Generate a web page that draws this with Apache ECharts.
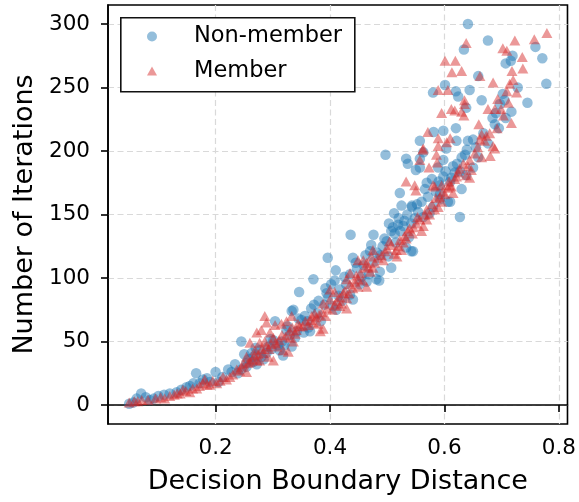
<!DOCTYPE html>
<html>
<head>
<meta charset="utf-8">
<script src="https://cdn.jsdelivr.net/npm/echarts@6/dist/echarts.min.js"></script>
<style>html,body{margin:0;padding:0;background:#fff}#chart{width:579px;height:502px}</style>
</head>
<body>
<div id="chart"></div>
<script>
// Tick labels
var xTicks = [0.2, 0.4, 0.6, 0.8];
var yTicks = [0, 50, 100, 150, 200, 250, 300];
var seriesNames = ['Non-member', 'Member'];

// Non-member: [decision boundary distance, number of iterations]
var nonMember = [
[0.641,300],[0.676,287],[0.634,280],[0.719,275],[0.707,269],[0.716,271],[0.759,282],[0.771,273],[0.659,259],
[0.778,253],[0.745,238],[0.601,252],[0.580,246],[0.620,247],[0.624,243],[0.644,248],[0.638,234],[0.702,245],[0.697,237],[0.717,231],[0.707,226],[0.684,226],[0.695,218],[0.688,221],[0.581,215],[0.598,216],[0.620,218],[0.621,208],[0.603,202],[0.641,208],[0.650,209],[0.639,201],[0.676,206],[0.598,193],[0.589,187],[0.630,195],[0.659,195],[0.650,187],[0.618,183],[0.627,184],[0.612,179],[0.610,176],[0.569,175],[0.592,173],[0.630,170],[0.592,166],[0.557,187],[0.557,208],
[0.497,197],[0.533,194],[0.536,190],[0.557,194],[0.563,199],[0.550,185],[0.522,167],[0.525,157],[0.543,157],[0.512,151],[0.503,143],[0.436,134],[0.476,134],[0.507,137],[0.513,135],[0.499,129],[0.482,120],[0.440,116],[0.507,108],[0.487,105],[0.486,98],[0.435,103],[0.542,121],[0.533,124],[0.542,143],[0.554,152],[0.563,148],[0.638,181],[0.610,160],[0.627,148],
[0.396,116],[0.410,106],[0.371,99],[0.346,89],[0.333,74],[0.304,66],[0.245,50],[0.481,99],[0.372,79],[0.367,76],[0.394,88],[0.397,85],[0.417,91],[0.435,87],[0.440,83],[0.405,78],[0.411,75],[0.356,70],[0.360,66],[0.365,58],[0.324,59],[0.330,55],[0.339,53],[0.301,51],[0.309,47],[0.312,43],[0.277,43],[0.289,41],[0.266,38],[0.333,46],[0.318,39],[0.254,33],[0.272,32],[0.455,101],[0.464,97],
[0.166,25],[0.200,26],[0.070,9],[0.049,1],[0.085,4],[0.100,7],[0.120,9],[0.132,10],[0.149,14],[0.161,17],[0.178,20],[0.190,18],[0.205,18],[0.222,28],[0.234,32],[0.239,25],[0.254,30],[0.266,34],[0.280,38],
[0.472,126],[0.336,75],[0.543,156],[0.519,142],[0.545,121],[0.528,141],[0.580,156],[0.574,151],[0.592,162],[0.606,160],[0.590,176],
[0.056,2],[0.062,5],[0.078,6],[0.092,5],[0.110,8],[0.140,12],[0.155,15],[0.172,17],[0.185,21],[0.212,22],[0.228,26],[0.245,28],[0.258,36],[0.263,41],[0.284,36],[0.292,46],[0.298,44],[0.316,50],[0.320,47],[0.342,58],[0.350,67],[0.354,57],[0.362,61],[0.378,72],[0.384,66],[0.390,79],[0.402,95],[0.415,86],[0.421,82],[0.428,95],[0.447,108],[0.452,95],[0.459,110],[0.468,103],[0.477,113],[0.492,125],[0.502,117],[0.515,128],[0.523,137],[0.530,145],[0.538,132],[0.548,147],[0.560,160],[0.571,164],[0.585,168],[0.598,180],[0.615,188],[0.636,197],[0.655,203],[0.668,214],[0.690,230],[0.705,240],[0.728,250],[0.665,240],
[0.445,112],[0.462,118],[0.470,121],[0.488,118],[0.495,131],[0.510,140],[0.520,147],[0.535,150],[0.552,158],[0.566,170],[0.578,178],[0.602,184],[0.622,190],[0.380,82],[0.392,92],[0.408,98],[0.425,101],[0.345,68],[0.326,62],[0.296,52],[0.270,45],[0.250,40]
];

// Member: [decision boundary distance, number of iterations]
var member = [
[0.638,285],[0.601,271],[0.619,271],[0.613,262],[0.630,263],[0.723,287],[0.702,281],[0.709,279],[0.736,274],[0.718,263],[0.737,265],[0.757,288],[0.779,293],[0.662,259],
[0.685,254],[0.714,253],[0.720,256],[0.589,248],[0.606,248],[0.635,240],[0.635,237],[0.612,233],[0.618,232],[0.630,231],[0.634,228],[0.595,230],[0.676,233],[0.688,233],[0.699,233],[0.709,247],[0.717,222],[0.660,221],[0.571,215],[0.589,210],[0.610,210],[0.604,207],[0.665,213],[0.673,212],[0.679,214],[0.662,209],[0.685,204],[0.688,202],[0.563,202],[0.557,193],[0.589,204],[0.586,197],[0.573,187],[0.587,191],[0.680,196],[0.665,195],[0.644,193],[0.641,188],[0.647,185],[0.638,181],[0.644,179],[0.624,183],[0.621,180],[0.580,173],[0.595,173],[0.612,172],[0.615,167],[0.606,171],[0.601,166],[0.592,164],
[0.562,201],[0.533,176],[0.548,173],[0.550,169],[0.583,172],[0.595,160],[0.589,156],[0.583,154],[0.569,154],[0.574,150],[0.557,146],[0.551,143],[0.563,141],[0.560,137],[0.539,139],[0.544,135],[0.533,131],[0.522,130],[0.528,128],[0.519,125],[0.516,122],[0.525,122],[0.504,129],[0.496,121],[0.490,118],[0.475,122],[0.472,117],[0.449,114],[0.458,114],[0.464,112],[0.461,108],[0.475,108],[0.470,105],[0.435,104],[0.429,99],[0.449,99],
[0.286,70],[0.289,65],[0.304,63],[0.315,64],[0.324,66],[0.333,70],[0.347,62],[0.341,59],[0.280,59],[0.272,57],[0.295,57],[0.301,53],[0.286,50],[0.260,49],[0.269,43],[0.254,38],[0.277,35],[0.379,64],[0.388,60],[0.383,58],[0.368,70],[0.373,72],[0.388,80],[0.400,83],[0.408,79],[0.417,85],[0.423,88],[0.429,84],[0.400,91],[0.408,89],[0.435,95],[0.443,97],[0.449,93],[0.464,93],[0.417,78],[0.429,76],[0.330,53],[0.336,50],[0.307,46],[0.318,43],[0.327,42],[0.292,38],[0.301,35],
[0.049,2],[0.071,4],[0.111,5],[0.120,7],[0.138,9],[0.143,12],[0.155,10],[0.167,13],[0.178,17],[0.181,20],[0.190,16],[0.202,17],[0.219,20],[0.225,22],[0.237,28],[0.245,30],[0.254,26],[0.260,34],[0.272,35],[0.283,41],[0.289,46],[0.277,49],
[0.569,146],[0.517,117],[0.609,173],
[0.058,3],[0.064,3],[0.082,4],[0.095,5],[0.104,6],[0.128,8],[0.133,9],[0.148,11],[0.160,13],[0.172,15],[0.185,16],[0.195,19],[0.208,19],[0.213,22],[0.230,24],[0.242,27],[0.249,32],[0.257,33],[0.264,36],[0.268,39],[0.275,40],[0.281,44],[0.293,44],[0.297,48],[0.305,49],[0.311,51],[0.316,55],[0.322,54],[0.329,58],[0.334,61],[0.339,56],[0.344,64],[0.352,62],[0.357,66],[0.362,63],[0.366,67],[0.371,65],[0.376,69],[0.381,71],[0.386,73],[0.392,70],[0.395,76],[0.404,75],[0.412,82],[0.420,80],[0.426,90],[0.433,88],[0.440,92],[0.446,102],[0.453,104],[0.457,98],[0.467,109],[0.478,112],[0.484,116],[0.493,114],[0.500,123],[0.507,126],[0.512,119],[0.530,133],[0.536,137],[0.546,140],[0.553,148],[0.566,150],[0.578,158],[0.585,163],[0.597,168],[0.608,176],[0.618,178],[0.626,186],[0.633,190],[0.653,198],[0.658,203],[0.670,208],[0.692,218],[0.703,228],[0.712,238],[0.693,241],[0.726,246]
];

var FONT = 'DejaVu Sans';
var chart = echarts.init(document.getElementById('chart'), null, {renderer: 'canvas'});
var gridLine = {show: true, lineStyle: {color: '#d9d9d9', width: 1.2, type: [6, 3.5]}};
chart.setOption({
  animation: false,
  backgroundColor: '#fff',
  grid: {left: 108, right: 11, top: 5, bottom: 78, show: true, borderColor: '#000', borderWidth: 1.6, backgroundColor: 'transparent'},
  xAxis: {
    type: 'value', min: 0.012, max: 0.815,
    name: 'Decision Boundary Distance', nameLocation: 'middle', nameGap: 44,
    nameTextStyle: {fontFamily: FONT, fontSize: 27, color: '#000'},
    axisLine: {show: true, lineStyle: {color: '#000', width: 1.6}},
    axisTick: {show: true, length: 7, lineStyle: {color: '#000', width: 1.6}, customValues: xTicks},
    axisLabel: {customValues: xTicks, fontFamily: FONT, fontSize: 21.5, color: '#000', margin: 13,
      formatter: function (v) { return v.toFixed(1); }},
    splitLine: gridLine
  },
  yAxis: {
    type: 'value', min: -15, max: 315,
    name: 'Number of Iterations', nameLocation: 'middle', nameGap: 68,
    nameTextStyle: {fontFamily: FONT, fontSize: 27, color: '#000'},
    axisLine: {show: true, lineStyle: {color: '#000', width: 1.6}},
    axisTick: {show: true, length: 7, lineStyle: {color: '#000', width: 1.6}, customValues: yTicks},
    axisLabel: {customValues: yTicks, fontFamily: FONT, fontSize: 21.5, color: '#000', margin: 18},
    splitLine: gridLine
  },
  graphic: [{
    type: 'rect', z: 3, left: 120, top: 17,
    shape: {width: 234, height: 74},
    style: {fill: '#fff', stroke: '#111', lineWidth: 1.6}
  }],
  legend: {
    orient: 'vertical', left: 147, top: 25, padding: 0, itemGap: 11.5,
    itemWidth: 10, itemHeight: 10, symbolKeepAspect: true, z: 5,
    formatter: function (name) { return '{p| }' + name; },
    textStyle: {fontFamily: FONT, fontSize: 22.5, color: '#000', rich: {p: {width: 32}}},
    data: [
      {name: seriesNames[0], icon: 'circle'},
      {name: seriesNames[1], icon: 'path://M5,0L10,9L0,9Z'}
    ]
  },
  series: [
    {name: seriesNames[0], type: 'scatter', data: nonMember, symbol: 'circle', symbolSize: 10.5,
      itemStyle: {color: 'rgba(31,119,180,0.6)'}, z: 2},
    {name: seriesNames[1], type: 'scatter', data: member, symbol: 'triangle', symbolSize: [11, 10],
      itemStyle: {color: 'rgba(214,39,40,0.6)'}, z: 3}
  ]
});
</script>
</body>
</html>
